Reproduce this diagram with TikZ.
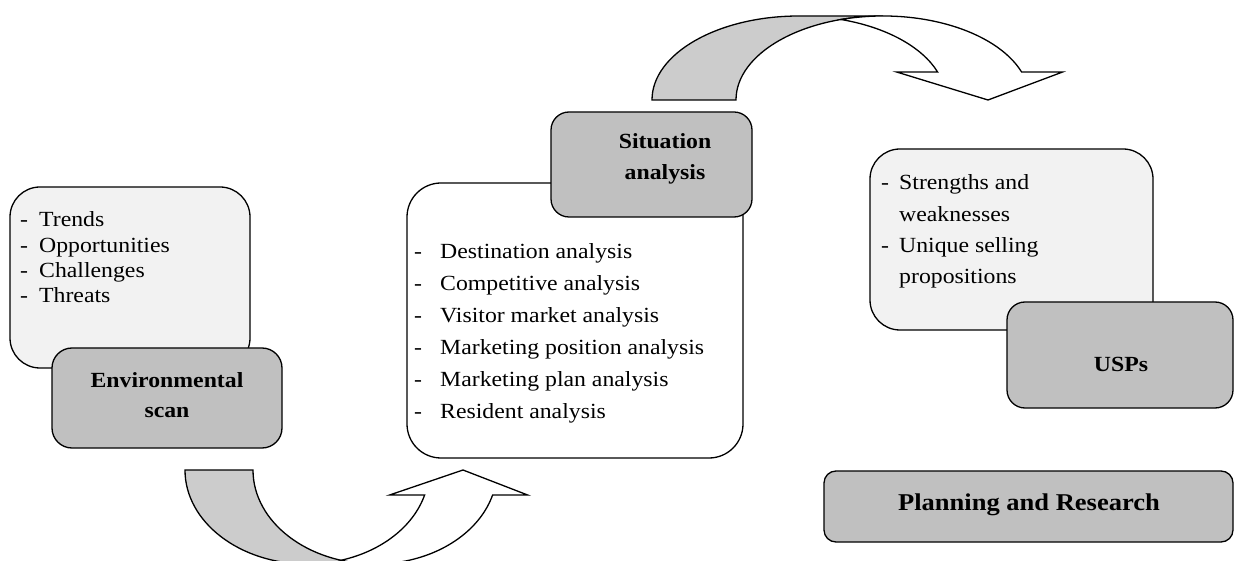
\documentclass[tikz,border=0pt]{standalone}
\usepackage{fontspec}
\setmainfont[FakeStretch=1.1]{Liberation Serif}

% list line helpers: a dash followed by a hanging indent
\newcommand\dashitem[1]{\makebox[#1pt][l]{-}}
\newcommand\contitem[1]{\hspace*{#1pt}}
\newcommand\bodysize[1]{\fontsize{21.6}{#1}\selectfont}

\definecolor{headfill}{RGB}{192,192,192}
\definecolor{listfill}{RGB}{242,242,242}
\definecolor{bandfill}{RGB}{204,204,204}

\begin{document}
\begin{tikzpicture}[x=1pt,y=1pt,
  box/.style={draw=black, line width=1.3pt, rounded corners=#1,
              inner sep=0pt, outer sep=0pt},
  listbox/.style={box=#1, fill=listfill},
  headbox/.style={box=#1, fill=headfill},
  itemtext/.style={anchor=base west, inner sep=0pt},
  headtext/.style={anchor=base, inner sep=0pt},
  band/.style={draw=black, line width=1.3pt, line join=miter, fill=bandfill},
  bandfront/.style={draw=black, line width=1.3pt, line join=miter, fill=white}]

\useasboundingbox (0,0) rectangle (1234,560);
\clip (0,0) rectangle (1234,560);

% ---- curved arrow from the environmental scan up to the situation analysis
\draw[band] (185,90)
  arc[start angle=180, end angle=270, x radius=122, y radius=94]
  -- (375,-4)
  arc[start angle=270, end angle=180, x radius=122, y radius=94]
  -- cycle;
\draw[bandfront] (463,90) -- (527.6,65) -- (492.6,65)
  arc[start angle=-15.42, end angle=-106.18, x radius=122, y radius=94]
  arc[start angle=-73.82, end angle=-15.42, x radius=122, y radius=94]
  -- (389.6,65) -- cycle;

% ---- curved arrow from the situation analysis over to the USPs
\draw[band] (652,460)
  arc[start angle=180, end angle=90, x radius=147, y radius=84]
  -- (883,544)
  arc[start angle=90, end angle=180, x radius=147, y radius=84]
  -- cycle;
\draw[bandfront] (988,460) -- (1062.6,488) -- (1021.6,488)
  arc[start angle=19.47, end angle=106.6, x radius=147, y radius=84]
  arc[start angle=73.4, end angle=19.47, x radius=147, y radius=84]
  -- (896.6,488) -- cycle;

% ---- environmental scan
\node[listbox=30pt, minimum width=240pt, minimum height=181pt] (envlist) at (130,282.5) {};
\node[itemtext, font={\bodysize{25.3}}] (envitems) at (20,333)
  {\begin{tabular}[t]{@{}l@{}}
   \dashitem{19}Trends\\
   \dashitem{19}Opportunities\\
   \dashitem{19}Challenges\\
   \dashitem{19}Threats
   \end{tabular}};
\node[headbox=20pt, minimum width=230pt, minimum height=100pt] (envscan) at (167,162) {};
\node[headtext, font={\bodysize{30}\bfseries}] (envtitle) at (167,172)
  {\begin{tabular}[t]{@{}c@{}}Environmental\\scan\end{tabular}};

% ---- situation analysis
\node[box=34pt, fill=white, minimum width=336pt, minimum height=275pt] (sitlist) at (575,239.5) {};
\node[itemtext, font={\bodysize{31.9}}] (sititems) at (414,301)
  {\begin{tabular}[t]{@{}l@{}}
   \dashitem{26}Destination analysis\\
   \dashitem{26}Competitive analysis\\
   \dashitem{26}Visitor market analysis\\
   \dashitem{26}Marketing position analysis\\
   \dashitem{26}Marketing plan analysis\\
   \dashitem{26}Resident analysis
   \end{tabular}};
\node[headbox=18pt, minimum width=201pt, minimum height=105pt] (sithead) at (651.5,395.5) {};
\node[headtext, font={\bodysize{31}\bfseries}] (sittitle) at (665,411)
  {\begin{tabular}[t]{@{}c@{}}Situation\\analysis\end{tabular}};

% ---- unique selling propositions
\node[listbox=30pt, minimum width=283pt, minimum height=181pt] (usplist) at (1011.5,320.5) {};
\node[itemtext, font={\bodysize{31.2}}] (uspitems) at (881,370)
  {\begin{tabular}[t]{@{}l@{}}
   \dashitem{18}Strengths and\\
   \contitem{18}weaknesses\\
   \dashitem{18}Unique selling\\
   \contitem{18}propositions
   \end{tabular}};
\node[headbox=18pt, minimum width=226pt, minimum height=106pt] (usphead) at (1120,205) {};
\node[headtext, font={\bodysize{26}\bfseries}] (usptitle) at (1121,188) {USPs};

% ---- stage label
\node[headbox=12pt, minimum width=409pt, minimum height=71pt] (plan) at (1028.5,53.5) {};
\node[headtext, font={\fontsize{24.1}{29}\selectfont\bfseries}] (plantitle) at (1029,50)
  {Planning and Research};

\end{tikzpicture}
\end{document}
